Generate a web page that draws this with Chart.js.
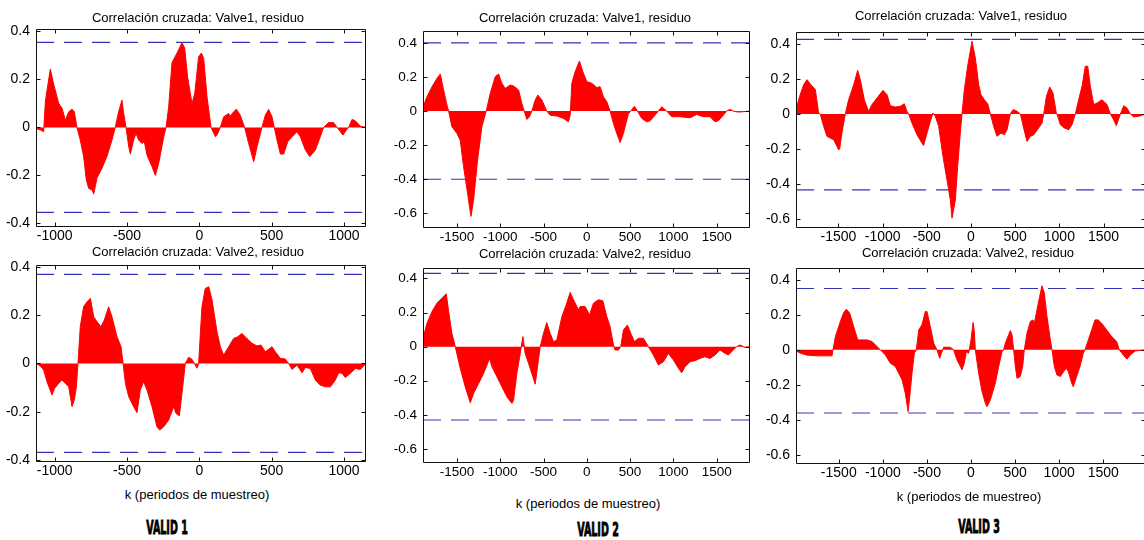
<!DOCTYPE html>
<html>
<head>
<meta charset="utf-8">
<script src="https://cdn.jsdelivr.net/npm/chart.js@4.4.1/dist/chart.umd.min.js"></script>
<style>
  html, body { margin: 0; padding: 0; background: #fff; }
  body { width: 1144px; height: 540px; position: relative; overflow: hidden; font-family: "Liberation Sans", Arial, sans-serif; }
  canvas { position: absolute; }
  .lbl { position: absolute; transform: translate(-50%, -50%); white-space: nowrap; color: #000; font-size: 13px; }
  .valid { position: absolute; transform: translate(-50%, -50%) scale(0.53, 1); white-space: nowrap; font-family: "Liberation Sans Narrow", "DejaVu Sans Condensed", sans-serif; font-weight: bold; font-size: 20px; color: #000; -webkit-text-stroke: 0.9px #000; }
</style>
</head>
<body>
<script>
// ---- data ----
const ticksX1 = [-1000, -500, 0, 500, 1000];
const ticksX23 = [-1500, -1000, -500, 0, 500, 1000, 1500];
const ticksY1 = [-0.4, -0.2, 0, 0.2, 0.4];
const ticksY23 = [-0.6, -0.4, -0.2, 0, 0.2, 0.4];

// VALID 1, Valve1
const lagA = [-1129,-1100,-1076,-1064,-1030,-1007,-972,-949,-926,-903,-880,-864,-846,-823,-800,-781,-765,-740,-730,-707,-673,-638,-604,-581,-558,-535,-523,-507,-488,-477,-454,-438,-419,-396,-380,-362,-327,-304,-281,-246,-230,-212,-189,-154,-120,-101,-81,-51,-32,-5,14,30,53,81,111,122,145,168,203,214,237,256,283,313,341,376,399,433,456,479,502,518,537,560,583,611,641,675,698,733,763,802,836,859,894,928,952,975,993,1016,1032,1055,1078,1113,1152];
const corrA = [-0.005,-0.01,-0.018,0.11,0.243,0.18,0.10,0.08,0.03,0.065,0.076,0.065,0,-0.053,-0.12,-0.22,-0.254,-0.262,-0.278,-0.21,-0.17,-0.12,-0.053,0,0.065,0.114,0.06,0,-0.08,-0.111,-0.053,-0.025,-0.053,-0.067,-0.06,-0.115,-0.164,-0.2,-0.15,-0.039,0,0.086,0.27,0.31,0.353,0.33,0.21,0.10,0.14,0.294,0.31,0.288,0.128,0,-0.039,-0.032,0,0.044,0.058,0.047,0.065,0.076,0.051,0,-0.067,-0.143,-0.08,0,0.051,0.075,0.045,0,-0.053,-0.111,-0.111,-0.06,-0.039,-0.018,-0.039,-0.094,-0.122,-0.094,-0.039,0,0.02,0.02,0,-0.018,-0.032,-0.011,0,0.033,0.028,0.005,0];

// VALID 1, Valve2
const lagB = [-1129,-1099,-1076,-1053,-1018,-1002,-972,-949,-926,-903,-880,-864,-850,-839,-823,-800,-776,-753,-730,-707,-680,-657,-627,-604,-569,-541,-527,-511,-488,-454,-431,-408,-385,-362,-327,-293,-274,-246,-212,-177,-161,-138,-120,-97,-74,-51,-28,-16,-5,18,41,65,88,122,145,168,203,237,265,295,329,364,399,426,456,502,525,560,594,617,641,675,710,733,767,802,836,871,906,940,963,986,1009,1044,1078,1113,1152];
const corrB = [0,-0.011,-0.028,-0.076,-0.131,-0.104,-0.083,-0.069,-0.083,-0.097,-0.179,-0.152,-0.097,0,0.152,0.234,0.255,0.269,0.193,0.172,0.152,0.179,0.234,0.193,0.11,0.069,0,-0.083,-0.138,-0.179,-0.204,-0.11,-0.076,-0.11,-0.179,-0.262,-0.276,-0.262,-0.234,-0.179,-0.207,-0.217,-0.124,0,0.025,0.017,-0.007,-0.02,0,0.234,0.31,0.317,0.262,0.131,0.069,0.034,0.069,0.103,0.11,0.124,0.103,0.083,0.072,0.076,0.048,0.069,0.048,0.021,0.018,0,-0.025,-0.007,-0.039,-0.017,-0.021,-0.069,-0.09,-0.097,-0.097,-0.069,-0.039,-0.041,-0.058,-0.041,-0.021,-0.025,0];

// VALID 2, Valve1
const lagC = [-1892,-1846,-1788,-1731,-1692,-1654,-1615,-1596,-1558,-1500,-1462,-1423,-1377,-1338,-1308,-1262,-1212,-1162,-1115,-1058,-1019,-981,-942,-885,-846,-788,-750,-723,-692,-662,-635,-596,-565,-519,-462,-423,-346,-269,-212,-192,-173,-135,-85,-46,0,58,115,154,192,231,269,308,346,385,423,481,508,550,585,635,692,731,788,827,865,923,981,1077,1192,1269,1346,1423,1481,1519,1577,1615,1654,1692,1750,1885];
const corrC = [0.025,0.084,0.143,0.192,0.218,0.124,0.035,0,-0.092,-0.131,-0.171,-0.327,-0.484,-0.618,-0.524,-0.288,-0.092,0,0.104,0.202,0.218,0.163,0.133,0.153,0.147,0.124,0.045,0,-0.049,-0.033,0,0.065,0.094,0.065,0,-0.024,-0.029,-0.043,-0.063,-0.024,0.163,0.231,0.294,0.231,0.173,0.163,0.139,0.143,0.084,0.055,0,-0.073,-0.131,-0.184,-0.131,-0.014,0,0.029,0,-0.043,-0.063,-0.057,-0.024,0,0.025,0,-0.033,-0.033,-0.039,-0.02,-0.033,-0.033,-0.063,-0.057,-0.024,0,0.01,0,-0.006,0];

// VALID 2, Valve2
const lagD = [-1892,-1846,-1788,-1731,-1673,-1623,-1596,-1558,-1519,-1462,-1404,-1346,-1308,-1250,-1192,-1123,-1096,-1038,-981,-923,-865,-846,-808,-769,-738,-712,-673,-623,-596,-569,-538,-500,-462,-423,-385,-346,-288,-238,-192,-154,-96,-77,-19,31,77,135,185,231,269,308,327,365,392,423,469,508,550,596,654,712,769,827,885,942,1000,1058,1096,1135,1192,1250,1308,1365,1423,1481,1538,1596,1635,1692,1731,1769,1827,1885];
const corrD = [0.049,0.137,0.206,0.255,0.284,0.31,0.206,0.078,0,-0.127,-0.235,-0.329,-0.275,-0.216,-0.157,-0.069,-0.118,-0.176,-0.235,-0.294,-0.333,-0.314,-0.157,-0.04,0.059,-0.04,-0.098,-0.176,-0.22,-0.118,0,0.078,0.141,0.078,0.029,0.039,0.176,0.245,0.318,0.275,0.216,0.235,0.235,0.186,0.255,0.275,0.269,0.176,0.118,0.01,-0.02,-0.02,0,0.098,0.127,0.078,0.029,0.049,0.049,0,-0.049,-0.108,-0.088,-0.04,-0.078,-0.127,-0.153,-0.118,-0.088,-0.082,-0.069,-0.059,-0.069,-0.049,-0.02,-0.039,-0.049,-0.02,0,0.01,-0.004,0];

// VALID 3, Valve1
const lagE = [-1981,-1940,-1895,-1857,-1812,-1762,-1725,-1706,-1668,-1630,-1593,-1555,-1498,-1487,-1461,-1423,-1385,-1328,-1283,-1253,-1208,-1159,-1121,-1064,-996,-951,-913,-857,-800,-755,-725,-706,-668,-611,-555,-536,-498,-460,-430,-404,-366,-317,-272,-234,-215,-177,-151,-121,-102,-75,-38,11,49,87,113,151,189,219,257,294,340,377,408,445,476,513,559,596,634,672,710,766,804,823,853,891,928,966,974,1011,1057,1106,1143,1181,1219,1257,1294,1321,1351,1389,1427,1483,1540,1578,1615,1645,1691,1729,1766,1804,1842,1898,1981];
const corrE = [0.025,0.101,0.168,0.197,0.168,0.14,0.006,0,-0.071,-0.128,-0.138,-0.147,-0.205,-0.201,-0.109,0,0.082,0.168,0.251,0.197,0.082,0.015,0.054,0.092,0.136,0.111,0.048,0.04,0.044,0.059,0.015,0,-0.052,-0.119,-0.167,-0.18,-0.109,-0.042,0.006,-0.013,-0.071,-0.244,-0.377,-0.492,-0.597,-0.492,-0.3,-0.109,0,0.14,0.274,0.417,0.322,0.168,0.111,0.082,0.059,0,-0.071,-0.128,-0.109,-0.119,-0.09,0,0.025,0.019,0,-0.08,-0.157,-0.128,-0.119,-0.08,-0.052,0,0.101,0.155,0.121,0.006,0,-0.061,-0.08,-0.09,-0.061,0,0.082,0.159,0.274,0.274,0.159,0.054,0.063,0.082,0.054,0,-0.033,-0.067,0,0.048,0.034,0,-0.017,-0.013,0];

// VALID 3, Valve2
const lagF = [-1985,-1935,-1860,-1746,-1633,-1576,-1565,-1538,-1482,-1444,-1414,-1376,-1331,-1285,-1236,-1179,-1123,-1066,-1028,-971,-915,-858,-820,-782,-745,-714,-699,-669,-643,-620,-593,-556,-518,-499,-461,-423,-386,-355,-329,-310,-234,-197,-159,-121,-102,-76,-53,-26,0,23,38,49,87,125,163,181,219,276,314,352,370,389,427,446,465,484,503,522,559,586,605,635,673,703,718,741,779,805,832,862,900,919,945,975,1013,1051,1081,1104,1142,1160,1198,1236,1274,1293,1331,1369,1406,1444,1482,1539,1595,1652,1682,1727,1769,1807,1864,1985];
const corrF = [-0.006,-0.019,-0.03,-0.034,-0.034,-0.034,0,0.076,0.162,0.213,0.232,0.21,0.133,0.057,0.057,0.057,0.048,0.019,0,-0.029,-0.076,-0.095,-0.133,-0.171,-0.248,-0.352,-0.286,-0.133,-0.019,0,0.114,0.143,0.219,0.219,0.133,0.038,0,-0.048,-0.01,0.015,0.015,0,-0.057,-0.095,-0.114,-0.076,-0.01,-0.019,0.057,0.156,0.105,0,-0.133,-0.238,-0.305,-0.324,-0.286,-0.19,-0.095,-0.01,0,0.038,0.086,0.11,0.086,0,-0.095,-0.162,-0.152,-0.095,0,0.095,0.162,0.171,0.152,0.21,0.305,0.366,0.324,0.19,0.057,0,-0.095,-0.143,-0.152,-0.124,-0.105,-0.124,-0.19,-0.21,-0.152,-0.095,-0.019,0,0.057,0.114,0.171,0.171,0.152,0.114,0.076,0.048,0,-0.029,-0.053,-0.029,-0.006,0];

// confidence bounds (upper, lower)
const upperBounds = [0.354, 0.368, 0.40, 0.43, 0.428, 0.35];
const lowerBounds = [-0.354, -0.368, -0.40, -0.43, -0.434, -0.36];

// ---- layout: plot area boxes in page pixels and axis ranges ----
const panels = [
  { L: 36,  T: 29,  R: 366,  B: 227, xr: [-1129, 1152], yr: [-0.415, 0.41],  lag: lagA, corr: corrA, xt: ticksX1,  yt: ticksY1,  fs: 14 },
  { L: 36,  T: 265, R: 366,  B: 462, xr: [-1129, 1152], yr: [-0.408, 0.407], lag: lagB, corr: corrB, xt: ticksX1,  yt: ticksY1,  fs: 14 },
  { L: 423, T: 31,  R: 750,  B: 228, xr: [-1892, 1885], yr: [-0.686, 0.47],  lag: lagC, corr: corrC, xt: ticksX23, yt: ticksY23, fs: 13.5 },
  { L: 423, T: 268, R: 750,  B: 463, xr: [-1892, 1885], yr: [-0.682, 0.461], lag: lagD, corr: corrD, xt: ticksX23, yt: ticksY23, fs: 13.5 },
  { L: 796, T: 32,  R: 1146, B: 228, xr: [-1981, 1981], yr: [-0.653, 0.47],  lag: lagE, corr: corrE, xt: ticksX23, yt: ticksY23, fs: 14 },
  { L: 796, T: 268, R: 1146, B: 464, xr: [-1985, 1985], yr: [-0.651, 0.467], lag: lagF, corr: corrF, xt: ticksX23, yt: ticksY23, fs: 14 },
];

const texts = [
  ["lbl", "Correlación cruzada: Valve1, residuo", 198, 17],
  ["lbl", "Correlación cruzada: Valve2, residuo", 198, 251],
  ["lbl", "Correlación cruzada: Valve1, residuo", 585, 17],
  ["lbl", "Correlación cruzada: Valve2, residuo", 585, 253],
  ["lbl", "Correlación cruzada: Valve1, residuo", 961, 15],
  ["lbl", "Correlación cruzada: Valve2, residuo", 968, 252],
  ["lbl", "k (periodos de muestreo)", 197, 494],
  ["lbl", "k (periodos de muestreo)", 588, 503],
  ["lbl", "k (periodos de muestreo)", 969, 496],
  ["valid", "VALID 1", 167, 527],
  ["valid", "VALID 2", 598, 529],
  ["valid", "VALID 3", 979, 526],
];

// box round the axes with inward ticks on all four sides, like the original
const boxTicks = {
  id: "boxTicks",
  afterDatasetsDraw(chart) {
    const { ctx, chartArea: a, scales } = chart;
    const left = Math.round(a.left) + 0.5, right = Math.round(a.right) - 0.5;
    const top = Math.round(a.top) + 0.5, bottom = Math.round(a.bottom) - 0.5;
    ctx.save();
    ctx.strokeStyle = "#111";
    ctx.lineWidth = 1;
    ctx.beginPath();
    scales.x.ticks.forEach((t) => {
      const px = Math.round(scales.x.getPixelForValue(t.value)) + 0.5;
      ctx.moveTo(px, bottom); ctx.lineTo(px, bottom - 4);
      ctx.moveTo(px, top); ctx.lineTo(px, top + 4);
    });
    scales.y.ticks.forEach((t) => {
      const py = Math.round(scales.y.getPixelForValue(t.value)) + 0.5;
      ctx.moveTo(left, py); ctx.lineTo(left + 4, py);
      ctx.moveTo(right, py); ctx.lineTo(right - 4, py);
    });
    ctx.rect(left, top, right - left, bottom - top);
    ctx.stroke();
    ctx.restore();
  },
};

const AXW = 44, PADT = 16, PADR = 4, AXH = 20;

panels.forEach((p, i) => {
  const cv = document.createElement("canvas");
  const w = (p.R - p.L) + AXW + PADR;
  const h = (p.B - p.T) + PADT + AXH;
  cv.width = w; cv.height = h;
  cv.style.left = (p.L - AXW) + "px";
  cv.style.top = (p.T - PADT) + "px";
  document.body.appendChild(cv);

  const tickFont = { family: "'Liberation Sans', Arial, sans-serif", size: p.fs };

  new Chart(cv.getContext("2d"), {
    type: "line",
    data: {
      datasets: [
        {
          data: p.lag.map((k, j) => ({ x: k, y: p.corr[j] })),
          borderColor: "#ff0000",
          backgroundColor: "#ff0000",
          borderWidth: 1,
          fill: "origin",
          pointRadius: 0,
          tension: 0,
        },
        {
          data: [{ x: p.xr[0], y: upperBounds[i] }, { x: p.xr[1], y: upperBounds[i] }],
          borderColor: "#3434b8",
          borderWidth: 1.2,
          borderDash: [18, 10],
          pointRadius: 0,
          fill: false,
        },
        {
          data: [{ x: p.xr[0], y: lowerBounds[i] }, { x: p.xr[1], y: lowerBounds[i] }],
          borderColor: "#3434b8",
          borderWidth: 1.2,
          borderDash: [18, 10],
          pointRadius: 0,
          fill: false,
        },
      ],
    },
    options: {
      responsive: false,
      animation: false,
      layout: { padding: { top: PADT, right: PADR, left: 0, bottom: 0 } },
      plugins: { legend: { display: false }, tooltip: { enabled: false } },
      scales: {
        x: {
          type: "linear",
          min: p.xr[0],
          max: p.xr[1],
          grid: { display: false, drawTicks: false },
          border: { display: false },
          afterBuildTicks: (s) => { s.ticks = p.xt.map((v) => ({ value: v })); },
          afterFit: (s) => { s.height = AXH; },
          ticks: { color: "#000", font: tickFont, padding: 1, maxRotation: 0, autoSkip: false, callback: (v) => String(v) },
        },
        y: {
          min: p.yr[0],
          max: p.yr[1],
          grid: { display: false, drawTicks: false },
          border: { display: false },
          afterBuildTicks: (s) => { s.ticks = p.yt.map((v) => ({ value: v })); },
          afterFit: (s) => { s.width = AXW; },
          ticks: { color: "#000", font: tickFont, padding: 6, autoSkip: false, callback: (v) => String(v) },
        },
      },
    },
    plugins: [boxTicks],
  });
});

texts.forEach(([cls, str, x, y]) => {
  const d = document.createElement("div");
  d.className = cls;
  d.textContent = str;
  d.style.left = x + "px";
  d.style.top = y + "px";
  document.body.appendChild(d);
});
</script>
</body>
</html>
